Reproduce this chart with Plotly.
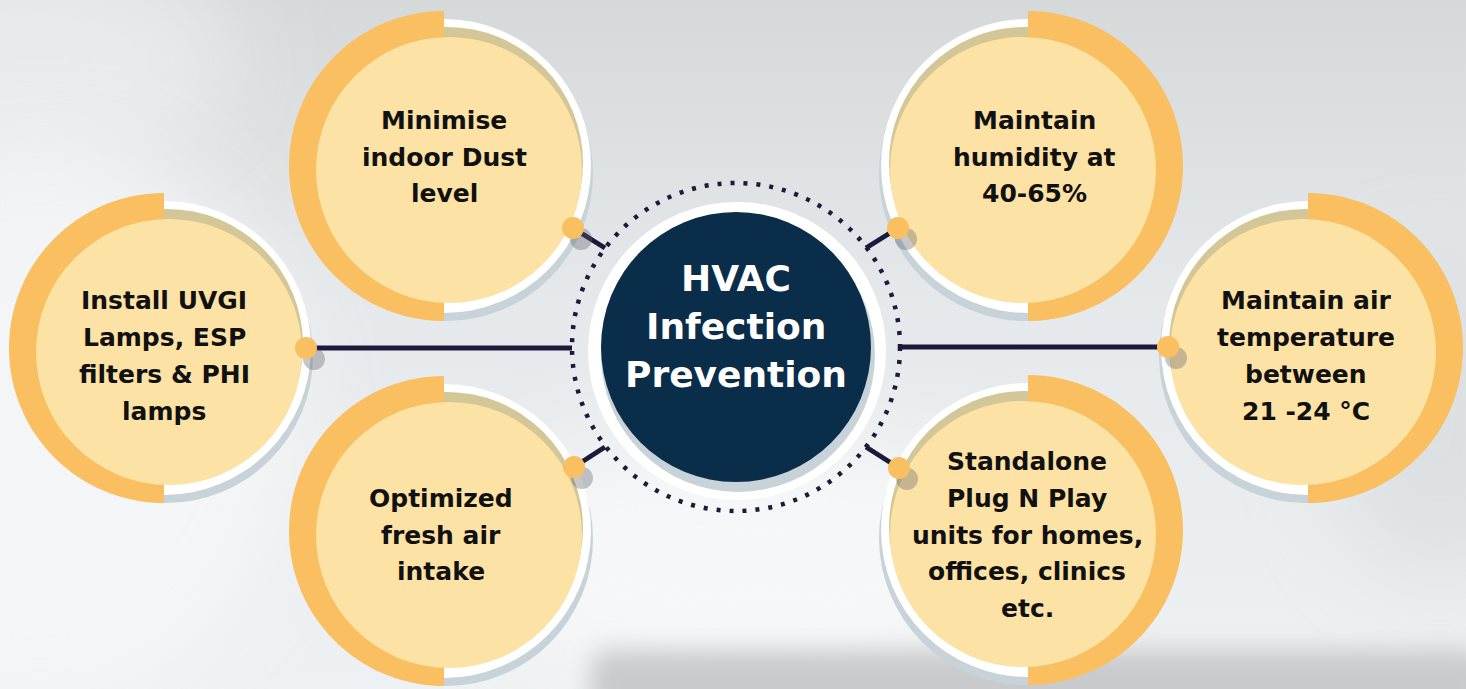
import base64
import plotly.graph_objects as go

# ---------------- data ----------------
center_title = ["HVAC", "Infection", "Prevention"]
node_labels = [
    ["Minimise", "indoor Dust", "level"],
    ["Install UVGI", "Lamps, ESP", "filters & PHI", "lamps"],
    ["Optimized", "fresh air", "intake"],
    ["Maintain", "humidity at", "40-65%"],
    ["Maintain air", "temperature", "between", "21 -24 °C"],
    ["Standalone", "Plug N Play", "units for homes,", "offices, clinics", "etc."],
]

# ---------------- layout geometry (pixels) ----------------
W, H = 1466, 689
CX, CY = 736, 347
node_cx = [444, 164, 444, 1028, 1308, 1028]
node_cy = [166, 348, 531, 166, 348, 530]
node_side = [-1, -1, -1, 1, 1, 1]          # orange half on left (-1) or right (+1)
text_cx = [444, 164, 441, 1034, 1306, 1027]
text_cy = [157, 356, 535, 157, 356, 535]
dot_xy = [(573, 228), (306, 348), (574, 467), (898, 228), (1168, 347), (899, 468)]
line_end = [(605, 248), (572, 348), (605, 447), (866, 248), (900, 347), (866, 447)]

ORANGE = "#f9bf61"
YELLOW = "#fde2a5"
TAN = "#d3c697"
WHITE = "#ffffff"
SHADOW = "#c7d2d9"
NAVY = "#0a2d4a"
LINE = "#1c1a3b"
TEXT = "#111111"
FONT = "DejaVu Sans"

shapes = []


def circle(x, y, r, fill, line=None, lw=0, dash=None):
    d = dict(type="circle", xref="x", yref="y", x0=x - r, x1=x + r, y0=y - r, y1=y + r,
             fillcolor=fill, line=dict(width=lw, color=line or "rgba(0,0,0,0)"), layer="above")
    if dash:
        d["line"]["dash"] = dash
    return d


def half_disk(x, y, r, side):
    k = 0.5523 * r
    s = side
    p = (f"M {x},{y - r} "
         f"C {x + s * k},{y - r} {x + s * r},{y - k} {x + s * r},{y} "
         f"C {x + s * r},{y + k} {x + s * k},{y + r} {x},{y + r} Z")
    return dict(type="path", xref="x", yref="y", path=p, fillcolor=ORANGE,
                line=dict(width=0), layer="above")


# ---- center hub ----
shapes.append(circle(CX, CY, 164, "rgba(0,0,0,0)", LINE, 4.5, "4px,9px"))
shapes.append(circle(CX + 1, CY + 4, 149, WHITE))
shapes.append(circle(CX + 2, CY + 8, 137, SHADOW))
shapes.append(circle(CX, CY, 135, NAVY))

# ---- satellites ----
for cx, cy, s in zip(node_cx, node_cy, node_side):
    m = -s  # inner offsets go away from orange side
    shapes.append(circle(cx + 2 * m, cy + 8, 147, SHADOW))
    shapes.append(circle(cx, cy, 147, WHITE))
    shapes.append(circle(cx + 3 * m, cy - 3, 136, TAN))
    shapes.append(half_disk(cx, cy, 155, s))
    shapes.append(circle(cx + 5 * m, cy + 4, 133, YELLOW))

# ---- connectors ----
for (dx, dy), (ex, ey) in zip(dot_xy, line_end):
    shapes.append(dict(type="line", xref="x", yref="y", x0=dx, y0=dy, x1=ex, y1=ey,
                       line=dict(color=LINE, width=5), layer="above"))
for dx, dy in dot_xy:
    shapes.append(circle(dx + 8, dy + 11, 11, "rgba(90,95,105,0.35)"))
    shapes.append(circle(dx, dy, 11, ORANGE))

# ---------------- text ----------------
annotations = []
for i, line in enumerate(center_title):
    annotations.append(dict(x=CX, y=CY - 69 + i * 48, xref="x", yref="y", text=line,
                            showarrow=False, font=dict(family=FONT, size=36, color="white",
                                                       weight="bold"),
                            xanchor="center", yanchor="middle"))

for lines, tx, ty in zip(node_labels, text_cx, text_cy):
    n = len(lines)
    for i, line in enumerate(lines):
        annotations.append(dict(x=tx, y=ty + (i - (n - 1) / 2) * 36.7, xref="x", yref="y",
                                text=line, showarrow=False,
                                font=dict(family=FONT, size=25, color=TEXT, weight="bold"),
                                xanchor="center", yanchor="middle"))

# ---------------- background ----------------
svg = f'''<svg xmlns="http://www.w3.org/2000/svg" width="{W}" height="{H}" viewBox="0 0 {W} {H}">
<defs>
<linearGradient id="g" x1="0" y1="0" x2="0" y2="1">
<stop offset="0" stop-color="#d6d9da"/>
<stop offset="0.45" stop-color="#e6e9eb"/>
<stop offset="1" stop-color="#eef1f3"/>
</linearGradient>
<filter id="b" x="-50%" y="-50%" width="200%" height="200%"><feGaussianBlur stdDeviation="45"/></filter>
<filter id="b2" x="-20%" y="-50%" width="140%" height="200%"><feGaussianBlur stdDeviation="12"/></filter>
</defs>
<rect width="{W}" height="{H}" fill="url(#g)"/>
<ellipse cx="20" cy="60" rx="220" ry="120" fill="#eceff0" opacity="0.8" filter="url(#b)"/>
<ellipse cx="40" cy="420" rx="260" ry="280" fill="#f7f8f9" opacity="0.8" filter="url(#b)"/>
<ellipse cx="760" cy="560" rx="320" ry="120" fill="#f8f9fa" opacity="0.85" filter="url(#b)"/>
<ellipse cx="1440" cy="420" rx="110" ry="160" fill="#d8dbdd" opacity="0.7" filter="url(#b)"/>
<rect x="590" y="650" width="900" height="70" rx="20" fill="#c9cacc" filter="url(#b2)"/>
</svg>'''
bg_uri = "data:image/svg+xml;base64," + base64.b64encode(svg.encode()).decode()

fig = go.Figure()
fig.add_trace(go.Scatter(x=[0, W], y=[0, H], mode="markers", marker=dict(opacity=0),
                         hoverinfo="skip", showlegend=False))
fig.update_layout(
    width=W, height=H, margin=dict(l=0, r=0, t=0, b=0),
    paper_bgcolor="#e9ecee", plot_bgcolor="rgba(0,0,0,0)",
    xaxis=dict(range=[0, W], visible=False, fixedrange=True),
    yaxis=dict(range=[H, 0], visible=False, fixedrange=True),
    shapes=shapes, annotations=annotations, showlegend=False,
    images=[dict(source=bg_uri, xref="paper", yref="paper", x=0, y=1, sizex=1, sizey=1,
                 sizing="stretch", xanchor="left", yanchor="top", layer="below")],
)
fig.write_html("out.html", config={"displayModeBar": False},
               post_script="document.body.style.margin='0';document.body.style.overflow='hidden';")
